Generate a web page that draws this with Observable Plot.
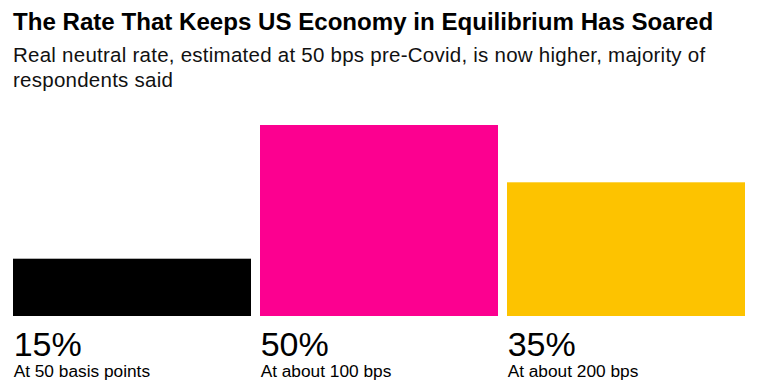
<!DOCTYPE html>
<html>
<head>
<meta charset="utf-8">
<script src="https://cdn.jsdelivr.net/npm/d3@7"></script>
<script src="https://cdn.jsdelivr.net/npm/@observablehq/plot@0.6"></script>
<style>
  body { margin: 0; background: #fff; width: 757px; height: 385px; overflow: hidden; }
  #title { position: absolute; left: 13px; top: 7.3px; font-family: "Liberation Sans", Arial, sans-serif; font-weight: 700; font-size: 24.1px; line-height: 30px; color: #000; white-space: nowrap; }
  #subtitle { position: absolute; left: 13px; top: 42px; width: 735px; font-family: "Liberation Sans", Arial, sans-serif; font-weight: 400; font-size: 20.5px; letter-spacing: 0.25px; line-height: 25px; color: #111; }
  #chart { position: absolute; left: 0; top: 100px; }
</style>
</head>
<body>
<div id="title">The Rate That Keeps US Economy in Equilibrium Has Soared</div>
<div id="subtitle">Real neutral rate, estimated at 50 bps pre-Covid, is now higher, majority of respondents said</div>
<div id="chart"></div>
<script>
const categories = ["At 50 basis points", "At about 100 bps", "At about 200 bps"];
const shares = [15, 50, 35];
const labels = ["15%", "50%", "35%"];
const colors = ["#000000", "#fc0090", "#fdc300"];

const data = categories.map((c, i) => ({cat: c, share: shares[i], label: labels[i], color: colors[i]}));

const W = 757, H = 285;
const xOpts = {type: "band", domain: categories, range: [13, 745], paddingInner: 0.038, paddingOuter: 0};
const xs = Plot.scale({x: xOpts});
const half = xs.bandwidth / 2;

const chart = Plot.plot({
  width: W,
  height: H,
  marginTop: 25,
  marginBottom: 69,
  marginLeft: 13,
  marginRight: 12,
  x: {...xOpts, axis: null},
  y: {domain: [0, 50], axis: null},
  marks: [
    Plot.barY(data, {x: "cat", y: "share", fill: "color"}),
    Plot.text(data, {x: "cat", y: 0, text: "label", textAnchor: "start", dx: -half, dy: 29, fontSize: 34, fill: "#000", fontFamily: "'Liberation Sans', Arial, sans-serif", lineAnchor: "middle"}),
    Plot.text(data, {x: "cat", y: 0, text: "cat", textAnchor: "start", dx: -half, dy: 54.6, fontSize: 17.3, fill: "#000", fontFamily: "'Liberation Sans', Arial, sans-serif", lineAnchor: "middle"})
  ],
  style: {background: "#fff"}
});
document.getElementById("chart").appendChild(chart);
</script>
</body>
</html>
